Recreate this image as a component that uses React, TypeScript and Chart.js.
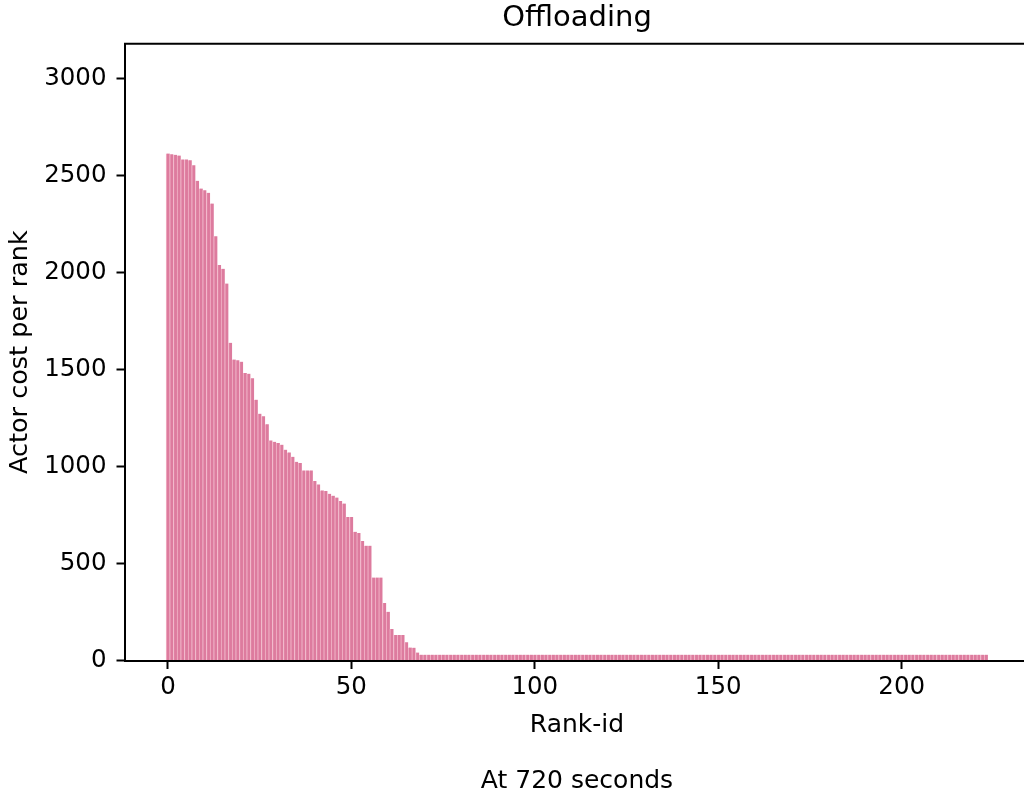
import React, { useEffect, useRef } from "react";
import { Chart, registerables } from "chart.js";

Chart.register(...registerables);

const TITLE = "Offloading";
const SUBTITLE = "At 720 seconds";
const X_LABEL = "Rank-id";
const Y_LABEL = "Actor cost per rank";

const xTicks = [0, 50, 100, 150, 200];
const yTicks = [0, 500, 1000, 1500, 2000, 2500, 3000];

// Ranks 0..68
const headCosts = [
  2614, 2611, 2608, 2604, 2584, 2584, 2580, 2554, 2474, 2434,
  2425, 2412, 2356, 2188, 2040, 2020, 1944, 1638, 1552, 1548,
  1541, 1483, 1479, 1455, 1345, 1273, 1259, 1218, 1135, 1128,
  1122, 1113, 1087, 1073, 1050, 1025, 1019, 980, 980, 980,
  926, 908, 877, 874, 860, 850, 840, 823, 809, 740,
  740, 664, 657, 616, 592, 592, 428, 428, 428, 296,
  251, 162, 131, 131, 131, 94, 67, 66, 41,
];

// Ranks 69..223
const tailCosts = [
  30, 30, 30, 30, 30, 30, 30, 30, 30, 30,
  30, 30, 30, 30, 30, 30, 30, 30, 30, 30,
  30, 30, 30, 30, 30, 30, 30, 30, 30, 30,
  30, 30, 30, 30, 30, 30, 30, 30, 30, 30,
  30, 30, 30, 30, 30, 30, 30, 30, 30, 30,
  30, 30, 30, 30, 30, 30, 30, 30, 30, 30,
  30, 30, 30, 30, 30, 30, 30, 30, 30, 30,
  30, 30, 30, 30, 30, 30, 30, 30, 30, 30,
  30, 30, 30, 30, 30, 30, 30, 30, 30, 30,
  30, 30, 30, 30, 30, 30, 30, 30, 30, 30,
  30, 30, 30, 30, 30, 30, 30, 30, 30, 30,
  30, 30, 30, 30, 30, 30, 30, 30, 30, 30,
  30, 30, 30, 30, 30, 30, 30, 30, 30, 30,
  30, 30, 30, 30, 30, 30, 30, 30, 30, 30,
  30, 30, 30, 30, 30, 30, 30, 30, 30, 30,
  30, 30, 30, 30, 30,
];

const costs = [...headCosts, ...tailCosts];
const rankIds = costs.map((_, i) => i);

const FONT = "'DejaVu Sans', sans-serif";

const framePlugin = {
  id: "frame",
  afterDraw(chart: any) {
    const { ctx, chartArea } = chart;
    const { left, right, top, bottom } = chartArea;
    ctx.save();
    ctx.strokeStyle = "#000";
    ctx.lineWidth = 2;
    ctx.beginPath();
    ctx.moveTo(left - 1, top);
    ctx.lineTo(right, top);
    ctx.lineTo(right, bottom);
    ctx.stroke();
    ctx.restore();
  },
};

export default function App() {
  const ref = useRef<HTMLCanvasElement | null>(null);

  useEffect(() => {
    if (!ref.current) return;
    const chart = new Chart(ref.current, {
      type: "bar",
      data: {
        datasets: [
          {
            data: rankIds.map((x, i) => ({ x, y: costs[i] })),
            backgroundColor: "#dd7b9e",
            borderColor: "#f2b3c7",
            borderWidth: { top: 0, right: 0, bottom: 0, left: 1 },
            barPercentage: 1,
            categoryPercentage: 1,
          },
        ],
      },
      plugins: [framePlugin],
      options: {
        responsive: false,
        animation: false,
        devicePixelRatio: 1,
        events: [],
        layout: { padding: { left: 0, right: 11, top: 0, bottom: 0 } },
        plugins: {
          legend: { display: false },
          tooltip: { enabled: false },
          title: {
            display: true,
            fullSize: false,
            text: TITLE,
            color: "#000",
            font: { family: FONT, size: 29, weight: "normal" },
            padding: { top: 1.5, bottom: 7.5 },
          },
          subtitle: {
            display: true,
            fullSize: false,
            position: "bottom",
            text: SUBTITLE,
            color: "#000",
            font: { family: FONT, size: 25, weight: "normal" },
            padding: { top: 0, bottom: 3.5 },
          },
        },
        scales: {
          x: {
            type: "linear",
            min: -11.7,
            max: 234.7,
            offset: false,
            z: 1,
            grid: {
              display: true,
              drawOnChartArea: false,
              drawTicks: true,
              tickLength: 8.5,
              tickWidth: 2,
              tickColor: "#000",
              offset: false,
            },
            border: { display: true, color: "#000", width: 2 },
            ticks: {
              color: "#000",
              font: { family: FONT, size: 24.5 },
              padding: 4,
              maxRotation: 0,
              autoSkip: false,
              callback: (v: any) => String(v),
            },
            title: {
              display: true,
              text: X_LABEL,
              color: "#000",
              font: { family: FONT, size: 25 },
              padding: { top: 0, bottom: 26 },
            },
            afterBuildTicks: (s: any) => {
              s.ticks = xTicks.map((value) => ({ value }));
            },
            afterFit: (s: any) => {
              s.height = 106;
            },
          },
          y: {
            type: "linear",
            min: 0,
            max: 3180,
            z: 1,
            grid: {
              display: true,
              drawOnChartArea: false,
              drawTicks: true,
              tickLength: 8.5,
              tickWidth: 2,
              tickColor: "#000",
            },
            border: { display: true, color: "#000", width: 2 },
            ticks: {
              color: "#000",
              font: { family: FONT, size: 24.5 },
              padding: 10,
              autoSkip: false,
              callback: (v: any) => String(v),
            },
            title: {
              display: true,
              text: Y_LABEL,
              color: "#000",
              font: { family: FONT, size: 25.5 },
              padding: { top: 5, bottom: 0 },
            },
            afterBuildTicks: (s: any) => {
              s.ticks = yTicks.map((value) => ({ value }));
            },
            afterFit: (s: any) => {
              s.width = 125;
            },
          },
        },
      } as any,
    });
    return () => chart.destroy();
  }, []);

  return (
    <div
      style={{
        position: "fixed",
        left: 0,
        top: 0,
        width: 1024,
        height: 793,
        overflow: "hidden",
        background: "#fff",
      }}
    >
      <canvas ref={ref} width={1040} height={800} style={{ display: "block" }} />
    </div>
  );
}
